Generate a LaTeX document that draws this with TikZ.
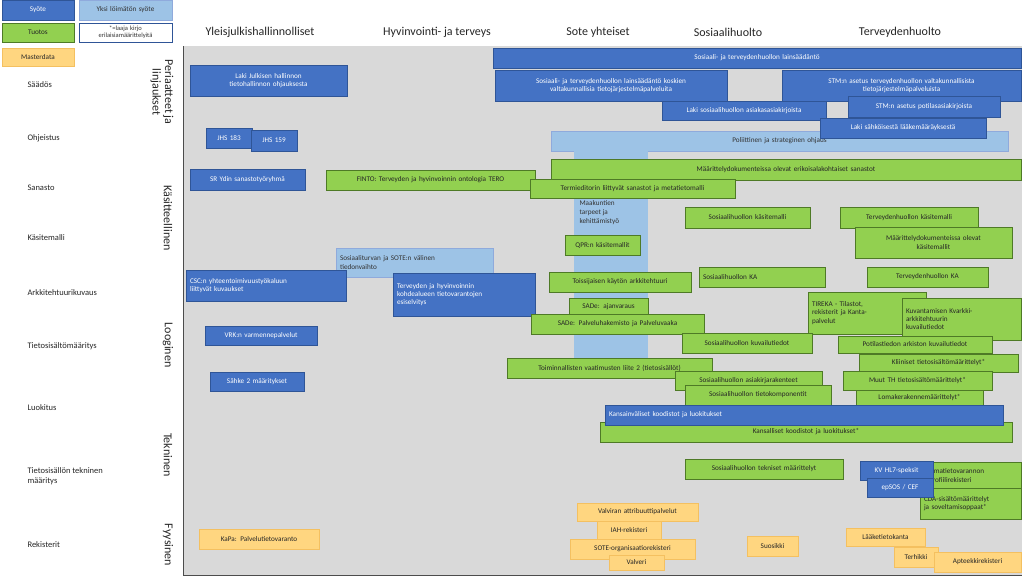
\documentclass[tikz,border=0pt]{standalone}
\usepackage{fontspec}
\setmainfont{Carlito}
\begin{document}
\begin{tikzpicture}[x=1pt,y=-1pt,
 base/.style={draw,inner sep=1pt,font=\fontsize{7.2}{8.2}\selectfont,align=center,line width=0.8pt},
 syo/.style={base,fill=blue1,draw=blue2,text=white},
 lb/.style={base,fill=lblue,draw=lblue2,text=black!80},
 tu/.style={base,fill=green1,draw=green2,text=black!85},
 md/.style={base,fill=orange1,draw=orange2,text=black!85},
 lft/.style={align=left},
 hdr/.style={font=\fontsize{12}{13}\selectfont,text=black!85},
 rowl/.style={font=\fontsize{8.5}{10}\selectfont,anchor=west,align=left,text=black!85},
 vl/.style={font=\fontsize{12}{12.5}\selectfont,rotate=-90,align=center,text=black!85}]
\definecolor{blue1}{HTML}{4472C4}\definecolor{blue2}{HTML}{2F5597}
\definecolor{lblue}{HTML}{9DC3E6}\definecolor{lblue2}{HTML}{8FAADC}
\definecolor{green1}{HTML}{92D050}\definecolor{green2}{HTML}{4E7A26}
\definecolor{orange1}{HTML}{FFD680}\definecolor{orange2}{HTML}{F4C060}
\definecolor{gray1}{HTML}{D9D9D9}
\newcommand\bx[7]{\pgfmathsetmacro\bw{#5-#3}\pgfmathsetmacro\bh{#6-#4}\pgfmathsetmacro\tw{#5-#3-8}%
 \node[#2,minimum width=\bw pt,minimum height=\bh pt,text width=\tw pt] (#1) at ({(#3+#5)/2},{(#4+#6)/2}) {#7};}
\useasboundingbox (0,0) rectangle (1024,584);
\fill[white] (0,0) rectangle (1024,584);
% legend
\bx{lsy}{syo}{2}{0}{74}{20}{Syöte}
\bx{lyl}{lb}{79}{0}{172}{20}{Yksi löimätön syöte}
\bx{ltu}{tu}{2}{23}{74}{42}{Tuotos}
\bx{llk}{base,draw=blue2,fill=white,text=black!80,font=\fontsize{6.5}{7}\selectfont}{79}{23}{172}{42}{*=laaja kirjo\\ erilaisiamäärittelyitä}
\bx{lmd}{md}{2}{48}{74}{66}{Masterdata}
% headers
\node[hdr] (h1) at (260,32) {Yleisjulkishallinnolliset};
\node[hdr] (h2) at (437,32) {Hyvinvointi- ja terveys};
\node[hdr] (h3) at (598,32) {Sote yhteiset};
\node[hdr] (h4) at (728,32) {Sosiaalihuolto};
\node[hdr] (h5) at (900,32) {Terveydenhuolto};
% area
\fill[gray1] (183,46) rectangle (1022,575);
\draw[black!70,line width=0.8pt] (183,46) -- (183,575) -- (1022,575);
% row labels
\node[rowl] (r1) at (24,85) {Säädös};
\node[rowl] (r2) at (24,138) {Ohjeistus};
\node[rowl] (r3) at (24,188) {Sanasto};
\node[rowl] (r4) at (24,238) {Käsitemalli};
\node[rowl] (r5) at (24,293) {Arkkitehtuurikuvaus};
\node[rowl] (r6) at (24,346) {Tietosisältömääritys};
\node[rowl] (r7) at (24,408) {Luokitus};
\node[rowl] (r8) at (24,476) {Tietosisällön tekninen\\määritys};
\node[rowl] (r9) at (24,545) {Rekisterit};
% vertical labels
\node[vl] (v1) at (162,92) {Periaatteet ja\\linjaukset};
\node[vl] (v2) at (168,218) {Käsitteellinen};
\node[vl] (v3) at (168,345) {Looginen};
\node[vl] (v4) at (168,455) {Tekninen};
\node[vl] (v5) at (168,545) {Fyysinen};
% light blue
\bx{pol}{lb}{551}{131}{1008}{151}{Poliittinen ja strateginen ohjaus}
\fill[lblue] (574,151) rectangle (648,358);
\node[font=\fontsize{7.2}{9}\selectfont,align=left,anchor=north west,text=black!80] (maak) at (576,197) {Maakuntien\\tarpeet ja\\kehittämistyö};
\bx{sost}{lb,lft}{336}{248}{493}{277}{Sosiaaliturvan ja SOTE:n välinen\\tiedonvaihto}
% blue boxes
\bx{b1}{syo}{493}{48}{1021}{68}{Sosiaali- ja terveydenhuollon lainsäädäntö}
\bx{b2}{syo}{495}{70}{727}{101}{Sosiaali- ja terveydenhuollon lainsäädäntö koskien\\valtakunnallisia tietojärjestelmäpalveluita}
\bx{b3}{syo}{782}{70}{1021}{101}{STM:n asetus terveydenhuollon valtakunnallisista\\tietojärjestelmäpalveluista}
\bx{b4}{syo}{662}{101}{826}{120}{Laki sosiaalihuollon asiakasasiakirjoista}
\bx{b5}{syo}{848}{96}{1000}{117}{STM:n asetus potilasasiakirjoista}
\bx{b6}{syo}{820}{118}{986}{138}{Laki sähköisestä lääkemääräyksestä}
\bx{b7}{syo}{190}{65}{347}{96}{Laki Julkisen hallinnon\\tietohallinnon ohjauksesta}
\bx{b8}{syo}{206}{128}{252}{148}{JHS 183}
\bx{b9}{syo}{251}{130}{297}{151}{JHS 159}
\bx{b10}{syo}{190}{169}{305}{190}{SR Ydin sanastotyöryhmä}
\bx{b11}{syo,lft}{186}{270}{346}{301}{CSC:n yhteentoimivuustyökaluun\\liittyvät kuvaukset}
\bx{b12}{syo,lft}{393}{273}{535}{316}{Terveyden ja hyvinvoinnin\\kohdealueen tietovarantojen\\esiselvitys}
\bx{b13}{syo}{205}{326}{317}{345}{VRK:n varmennepalvelut}
\bx{b14}{syo}{210}{372}{304}{391}{Sähke 2 määritykset}
% green
\bx{g1}{tu}{551}{159}{1021}{180}{Määrittelydokumenteissa olevat erikoisalakohtaiset sanastot}
\bx{g2}{tu}{326}{170}{535}{190}{FINTO: Terveyden ja hyvinvoinnin ontologia TERO}
\bx{g3}{tu}{530}{179}{735}{198}{Termieditorin liittyvät sanastot ja metatietomalli}
\bx{g4}{tu}{685}{207}{810}{228}{Sosiaalihuollon käsitemalli}
\bx{g5}{tu}{840}{207}{978}{228}{Terveydenhuollon käsitemalli}
\bx{g6}{tu}{855}{227}{1012}{258}{Määrittelydokumenteissa olevat\\käsitemallit}
\bx{g7}{tu}{565}{235}{640}{255}{QPR:n käsitemallit}
\bx{g8}{tu}{549}{272}{691}{292}{Toissijaisen käytön arkkitehtuuri}
\bx{g9}{tu,lft}{699}{267}{825}{287}{Sosiaalihuollon KA}
\bx{g10}{tu}{867}{267}{988}{287}{Terveydenhuollon KA}
\bx{g11}{tu}{569}{298}{648}{315}{SADe: ajanvaraus}
\bx{g12}{tu}{531}{314}{704}{334}{SADe: Palveluhakemisto ja Palveluvaaka}
\bx{g13}{tu,lft}{808}{292}{926}{334}{TIREKA - Tilastot,\\rekisterit ja Kanta-\\palvelut}
\bx{g14}{tu,lft}{902}{298}{1021}{340}{Kuvantamisen Kvarkki-\\arkkitehtuurin\\kuvailutiedot}
\bx{g15}{tu}{682}{333}{812}{353}{Sosiaalihuollon kuvailutiedot}
\bx{g16}{tu}{838}{336}{992}{353}{Potilastiedon arkiston kuvailutiedot}
\bx{g17}{tu}{507}{358}{712}{378}{Toiminnallisten vaatimusten liite 2 (tietosisällöt)}
\bx{g18}{tu}{859}{354}{1018}{372}{Kliiniset tietosisältömäärittelyt*}
\bx{g19}{tu}{675}{371}{822}{390}{Sosiaalihuollon asiakirjarakenteet}
\bx{g20}{tu}{843}{371}{992}{390}{Muut TH tietosisältömäärittelyt*}
\bx{g21}{tu}{685}{385}{831}{405}{Sosiaalihuollon tietokomponentit}
\bx{g22}{tu}{856}{390}{983}{405}{Lomakerakennemäärittelyt*}
\bx{g23}{tu}{600}{422}{1012}{442}{Kansalliset koodistot ja luokitukset*}
\bx{b15}{syo,lft}{605}{405}{1003}{425}{Kansainväliset koodistot ja luokitukset}
\bx{g24}{tu}{685}{459}{843}{479}{Sosiaalihuollon tekniset määrittelyt}
\bx{g25}{tu,lft}{925}{462}{1021}{490}{Omatietovarannon\\profiilirekisteri}
\bx{g26}{tu,lft}{920}{488}{1021}{519}{CDA-sisältömäärittelyt\\ja soveltamisoppaat*}
\bx{b16}{syo}{860}{461}{933}{480}{KV HL7-speksit}
\bx{b17}{syo}{867}{478}{933}{497}{epSOS / CEF}
% masterdata
\bx{m1}{md}{199}{529}{319}{549}{KaPa: Palvelutietovaranto}
\bx{m2}{md}{577}{503}{698}{521}{Valviran attribuuttipalvelut}
\bx{m3}{md}{597}{521}{661}{539}{IAH-rekisteri}
\bx{m4}{md}{570}{539}{695}{559}{SOTE-organisaatiorekisteri}
\bx{m5}{md}{609}{555}{664}{570}{Valveri}
\bx{m6}{md}{747}{536}{798}{556}{Suosikki}
\bx{m7}{md}{846}{528}{925}{546}{Lääketietokanta}
\bx{m8}{md}{894}{547}{938}{567}{Terhikki}
\bx{m9}{md}{934}{552}{1021}{572}{Apteekkirekisteri}
\end{tikzpicture}
\end{document}
